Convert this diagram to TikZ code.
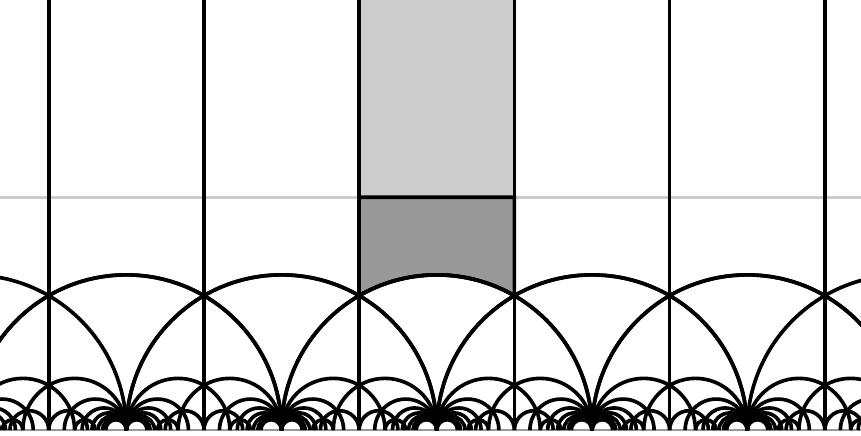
\documentclass[tikz,border=0pt]{standalone}
\tikzset{
  geodesic/.style={line width=2pt, black},
  horizon/.style={line width=1.4pt, gray!80},
  level/.style={line width=1.4pt, gray!40},
  upper/.style={fill=gray!40},
  lower/.style={fill=gray!80, draw=black, line width=2pt}
}
\begin{document}
\begin{tikzpicture}[x=3cm,y=3cm]
  \def\maxqs{15}
  \def\xl{-2.814}
  \def\xr{2.733}
  \def\yt{2.771}

  \useasboundingbox (\xl,-0.032) rectangle (\xr,\yt);
  \clip (\xl,-0.032) rectangle (\xr,\yt);

  % shaded domain
  \fill[upper] (-0.5,1.5) rectangle (0.5,\yt+0.1);
  \draw[level] (\xl-0.1,1.5) -- (\xr+0.1,1.5);
  \draw[lower] (-0.5,1.5) -- (-0.5,0.8660254)
    arc[start angle=120,end angle=60,radius=1] -- (0.5,1.5) -- cycle;

  \draw[horizon] (\xl-0.1,0) -- (\xr+0.1,0);

  % vertical geodesics x = n+1/2
  \foreach \n in {-3,...,2}
    \draw[geodesic] (\n+0.5,0) -- (\n+0.5,\yt+0.1);

  % semicircles p/q -- r/s with |ps-qr| = 2
  \foreach \q in {1,...,3}{
    \pgfmathtruncatemacro{\smax}{\maxqs/\q}
    \pgfmathtruncatemacro{\pmax}{\q-1}
    \foreach \s in {\q,...,\smax}{
      \foreach \p in {0,...,\pmax}{
        \foreach \e in {-2,2}{
          \edef\rnum{\the\numexpr(\p*\s-\e)/\q\relax}
          \def\good{1}
          \ifnum\numexpr\rnum*\q\relax=\numexpr\p*\s-\e\relax\else\def\good{0}\fi
          \ifodd\p\relax\else\ifodd\q\relax\else\def\good{0}\fi\fi
          \ifodd\rnum\relax\else\ifodd\s\relax\else\def\good{0}\fi\fi
          \ifnum\good=1
            \pgfmathsetmacro{\ctr}{(\p/\q+\rnum/\s)/2}
            \pgfmathsetmacro{\rad}{1/(\q*\s)}
            \foreach \n in {-3,...,3}
              \draw[geodesic] (\ctr+\n+\rad,0)
                arc[start angle=0,end angle=180,radius=\rad];
          \fi
        }
      }
    }
  }
\end{tikzpicture}
\end{document}
